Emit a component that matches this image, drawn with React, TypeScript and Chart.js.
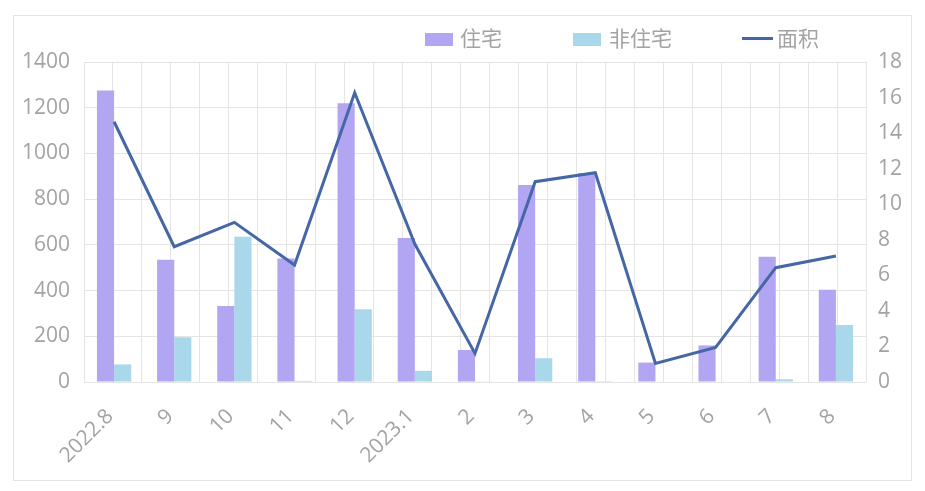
import { useEffect, useRef } from "react"
import { Chart, registerables } from "chart.js"

Chart.register(...registerables)

const months = ["2022.8", "9", "10", "11", "12", "2023.1", "2", "3", "4", "5", "6", "7", "8"]
const residential = [1275, 535, 332, 540, 1220, 630, 140, 862, 914, 85, 160, 548, 404]
const nonResidential = [77, 196, 636, 5, 318, 49, 3, 104, 4, 0, 0, 12, 249]
const area = [14.64, 7.61, 8.98, 6.58, 16.27, 7.76, 1.61, 11.27, 11.77, 1.05, 1.95, 6.43, 7.09]

const FONT = '"Open Sans", "Noto Sans CJK SC", sans-serif'
const TEXT = "#a3a3a3"
const GRID = "#e4e4e4"
const PURPLE = "#b2a6f3"
const BLUE = "#aad8eb"
const LINE = "#4667a5"

// legend drawn on the canvas, placed like the original
const legendPlugin = {
  id: "sideLegend",
  afterDraw(chart: Chart) {
    const ctx = chart.ctx
    const ds = chart.data.datasets
    ctx.save()
    ctx.font = `21px ${FONT}`
    ctx.textBaseline = "middle"
    const items = [
      { x: 411, textX: 446, type: "box" },
      { x: 559, textX: 595, type: "box" },
      { x: 728, textX: 763, type: "line" },
    ]
    items.forEach((it, i) => {
      const d: any = ds[i]
      if (it.type === "box") {
        ctx.fillStyle = d.backgroundColor
        ctx.fillRect(it.x, 17, 28, 13)
      } else {
        ctx.strokeStyle = d.borderColor
        ctx.lineWidth = 3
        ctx.beginPath()
        ctx.moveTo(it.x, 22.5)
        ctx.lineTo(it.x + 31, 22.5)
        ctx.stroke()
      }
      ctx.fillStyle = TEXT
      ctx.fillText(d.label, it.textX, 24)
    })
    ctx.restore()
  },
}

export default function App() {
  const chartRef = useRef<HTMLCanvasElement>(null)
  const chartInstance = useRef<Chart | null>(null)

  useEffect(() => {
    if (!chartRef.current) return
    const ctx = chartRef.current.getContext("2d")
    if (!ctx) return

    if (chartInstance.current) {
      chartInstance.current.destroy()
    }

    chartInstance.current = new Chart(ctx, {
      type: "bar",
      data: {
        labels: months,
        datasets: [
          {
            label: "住宅",
            data: residential,
            backgroundColor: PURPLE,
            categoryPercentage: 0.57,
            barPercentage: 1,
            order: 1,
            yAxisID: "y",
          },
          {
            label: "非住宅",
            data: nonResidential,
            backgroundColor: BLUE,
            categoryPercentage: 0.57,
            barPercentage: 1,
            order: 1,
            yAxisID: "y",
          },
          {
            type: "line",
            label: "面积",
            data: area,
            borderColor: LINE,
            backgroundColor: LINE,
            borderWidth: 3,
            pointRadius: 0,
            tension: 0,
            order: 0,
            yAxisID: "y1",
          } as any,
        ],
      },
      options: {
        animation: false,
        responsive: true,
        maintainAspectRatio: false,
        layout: { padding: { top: 46, left: 0, right: 0, bottom: 0 } },
        plugins: {
          legend: { display: false },
          tooltip: { enabled: false },
        },
        scales: {
          x: {
            type: "category",
            grid: { display: false, drawTicks: false },
            border: { display: false },
            ticks: {
              color: TEXT,
              font: { family: FONT, size: 21 },
              maxRotation: 45,
              minRotation: 45,
              padding: 22,
              labelOffset: -4,
              autoSkip: false,
            },
            afterFit(scale: any) {
              scale.height = 98
            },
          },
          xg: {
            type: "linear",
            position: "bottom",
            min: 0,
            max: 26,
            ticks: { display: false, stepSize: 1, maxTicksLimit: 100 },
            grid: { color: GRID, drawTicks: false, lineWidth: 1 },
            border: { display: false },
            afterFit(scale: any) {
              scale.height = 0
            },
          },
          y: {
            position: "left",
            min: 0,
            max: 1400,
            ticks: {
              stepSize: 200,
              color: TEXT,
              font: { family: FONT, size: 21 },
              padding: 14,
              callback: (v: any) => String(v),
            },
            grid: { color: GRID, drawTicks: false },
            border: { display: false },
            afterFit(scale: any) {
              scale.width = 70
            },
          },
          y1: {
            position: "right",
            min: 0,
            max: 18,
            ticks: {
              stepSize: 2,
              color: TEXT,
              font: { family: FONT, size: 21 },
              padding: 12,
            },
            grid: { display: false, drawTicks: false },
            border: { display: false },
            afterFit(scale: any) {
              scale.width = 45
            },
          },
        },
      },
      plugins: [legendPlugin],
    })

    return () => {
      if (chartInstance.current) {
        chartInstance.current.destroy()
        chartInstance.current = null
      }
    }
  }, [])

  return (
    <div style={{ position: "fixed", left: 0, top: 0, width: 925, height: 491, background: "#fff" }}>
      <div
        style={{
          position: "absolute",
          left: 13,
          top: 15,
          width: 899,
          height: 466,
          border: "1px solid #e3e3e3",
          boxSizing: "border-box",
        }}
      >
        <div style={{ position: "relative", width: 897, height: 464 }}>
          <canvas ref={chartRef} />
        </div>
      </div>
    </div>
  )
}
